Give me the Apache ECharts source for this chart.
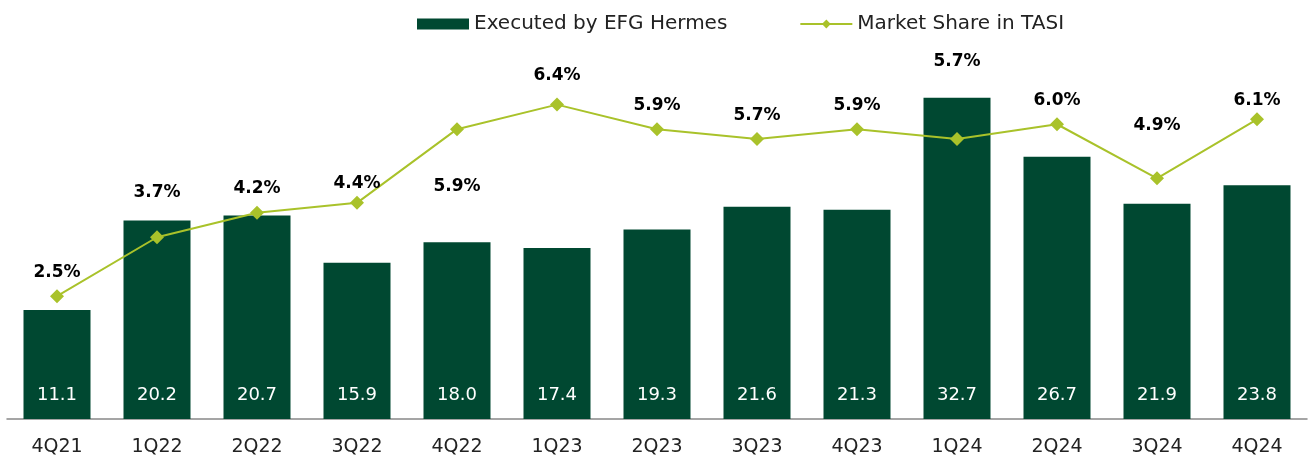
<!DOCTYPE html>
<html>
<head>
<meta charset="utf-8">
<script src="https://cdn.jsdelivr.net/npm/echarts@6/dist/echarts.min.js"></script>
<style>
  html, body { margin: 0; padding: 0; background: #fff; }
  #chart { width: 1316px; height: 458px; }
</style>
</head>
<body>
<div id="chart"></div>
<script>
const quarters = ['4Q21','1Q22','2Q22','3Q22','4Q22','1Q23','2Q23','3Q23','4Q23','1Q24','2Q24','3Q24','4Q24'];
const executed = [11.1, 20.2, 20.7, 15.9, 18.0, 17.4, 19.3, 21.6, 21.3, 32.7, 26.7, 21.9, 23.8];
const marketShare = [2.5, 3.7, 4.2, 4.4, 5.9, 6.4, 5.9, 5.7, 5.9, 5.7, 6.0, 4.9, 6.1];

// label nudges (pixels) so the % labels sit like in the source slide
const labelLift = [0, 21, 1, -4, -81, 6, 0, 0, 0, 54, 0, 29, -5];

const FONT = '"DejaVu Sans", sans-serif';
const chart = echarts.init(document.getElementById('chart'));

const option = {
  animation: false,
  textStyle: { fontFamily: FONT },
  legend: {
    top: 9,
    left: 412,
    itemGap: 72,
    itemWidth: 52,
    itemHeight: 11,
    textStyle: { fontSize: 20, color: '#222', fontFamily: FONT },
    data: [
      { name: 'Executed by EFG Hermes', icon: 'rect' },
      { name: 'Market Share in TASI' }
    ]
  },
  grid: { left: 7, right: 9, top: 26, bottom: 39 },
  xAxis: {
    type: 'category',
    data: quarters,
    axisTick: { show: false },
    axisLine: { lineStyle: { color: '#888', width: 1.5 } },
    axisLabel: { color: '#222', fontSize: 19, margin: 19, fontFamily: FONT }
  },
  yAxis: [
    { type: 'value', min: 0, max: 40, show: false, splitLine: { show: false } },
    { type: 'value', min: 0, max: 8, show: false, splitLine: { show: false } }
  ],
  series: [
    {
      name: 'Executed by EFG Hermes',
      type: 'bar',
      barWidth: '67%',
      itemStyle: { color: '#004831' },
      label: {
        show: true,
        position: 'insideBottom',
        distance: 15,
        color: '#fff',
        fontSize: 18,
        fontFamily: FONT,
        formatter: p => p.value.toFixed(1)
      },
      data: executed
    },
    {
      name: 'Market Share in TASI',
      type: 'line',
      yAxisIndex: 1,
      symbol: 'diamond',
      symbolSize: 14,
      lineStyle: { color: '#a9c22a', width: 2 },
      itemStyle: { color: '#a9c22a' },
      label: {
        show: true,
        position: 'top',
        distance: 8,
        color: '#000',
        fontSize: 17,
        fontWeight: 'bold',
        fontFamily: FONT,
        formatter: p => p.value.toFixed(1) + '%'
      },
      data: marketShare.map((v, i) => ({
        value: v,
        label: { offset: [0, -labelLift[i]] }
      }))
    }
  ]
};

chart.setOption(option);
window.addEventListener('resize', function () { chart.resize(); });
</script>
</body>
</html>
